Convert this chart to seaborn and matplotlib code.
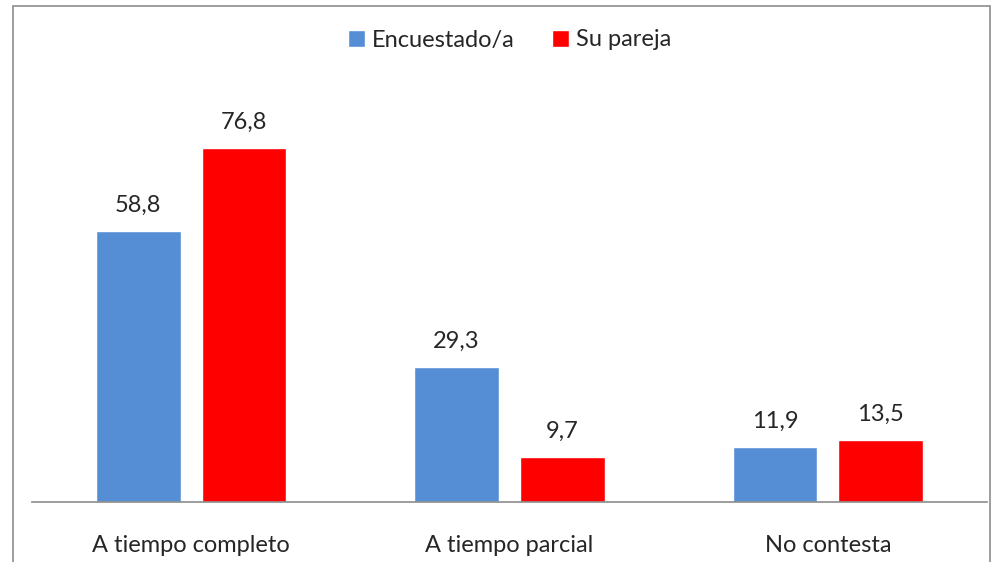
import numpy as np
import pandas as pd
import matplotlib
matplotlib.use("Agg")
import matplotlib.pyplot as plt
import seaborn as sns
from matplotlib.patches import Rectangle

# datos
categorias = ["A tiempo completo", "A tiempo parcial", "No contesta"]
series = ["Encuestado/a", "Su pareja"]
encuestado = [58.8, 29.3, 11.9]
pareja = [76.8, 9.7, 13.5]
colores = ["#558ED5", "#FF0000"]

df = pd.DataFrame({
    "categoria": categorias * 2,
    "serie": [series[0]] * 3 + [series[1]] * 3,
    "valor": encuestado + pareja,
})

sns.set_style("white")
plt.rcParams["font.family"] = ["Lato", "DejaVu Sans"]

fig = plt.figure(figsize=(9.92, 5.62), dpi=100)
ax = fig.add_axes([32 / 992, 1 - 502 / 562, 955 / 992, 461 / 562])

sns.barplot(data=df, x="categoria", y="valor", hue="serie", palette=colores,
            width=0.664, gap=0.2, ax=ax, saturation=1, errorbar=None)

ax.set_ylim(0, 100)
ax.set_xlim(-0.5, 2.5)
ax.set_xlabel("")
ax.set_ylabel("")
ax.set_yticks([])
for s in ["top", "left", "right"]:
    ax.spines[s].set_visible(False)
ax.spines["bottom"].set_color("#8c8c8c")
ax.spines["bottom"].set_linewidth(1.2)
ax.tick_params(axis="x", length=0, pad=24, labelsize=17)

for cont in ax.containers:
    ax.bar_label(cont, labels=[f"{v:.1f}".replace(".", ",") for v in cont.datavalues],
                 padding=11, fontsize=17)

ax.legend(loc="center", bbox_to_anchor=(0.5, 1 - (40 - 41) / 461), ncol=2, frameon=False,
          fontsize=17, handlelength=0.7, handleheight=0.7, handletextpad=0.3,
          columnspacing=1.6)

# marco gris
fig.patches.append(Rectangle((13 / 992, -0.1), 977 / 992, 1.1 - 6 / 562,
                             transform=fig.transFigure, fill=False,
                             edgecolor="#8c8c8c", linewidth=1.2))

fig.savefig("out.png", dpi=100)
